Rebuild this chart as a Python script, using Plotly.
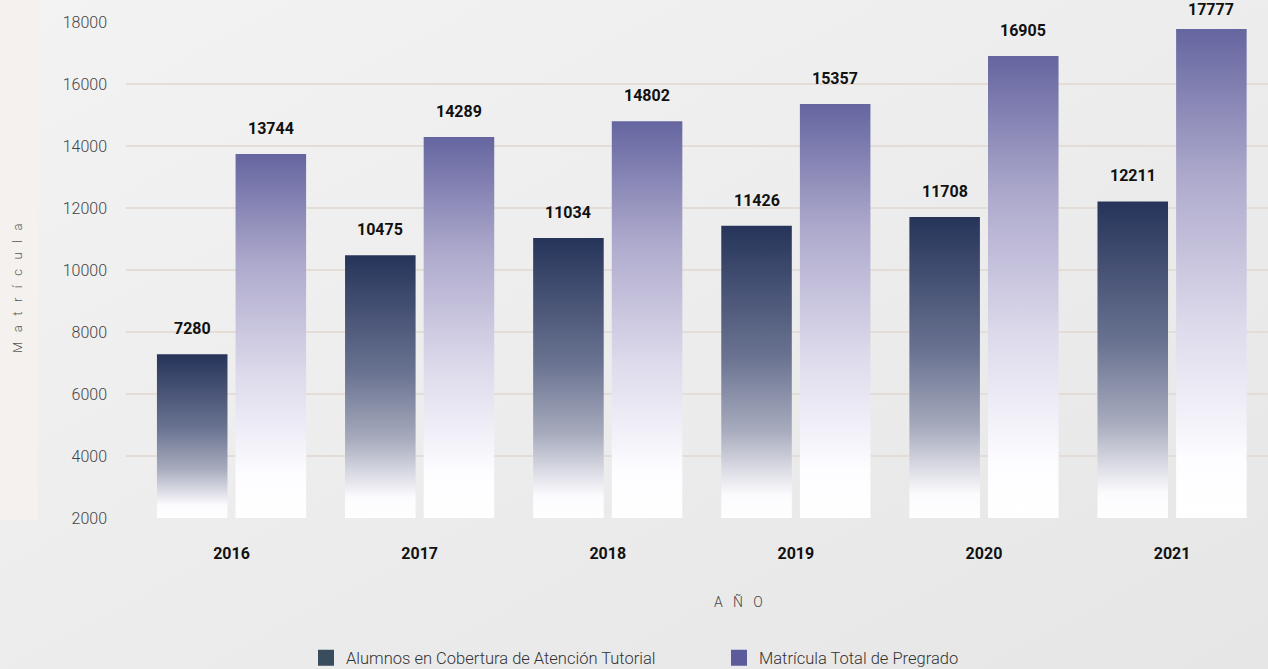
import base64
import plotly.graph_objects as go

# ---- data ----
years = ["2016", "2017", "2018", "2019", "2020", "2021"]
tutoria = [7280, 10475, 11034, 11426, 11708, 12211]
matricula = [13744, 14289, 14802, 15357, 16905, 17777]
series_names = ["Alumnos en Cobertura de Atención Tutorial", "Matrícula Total de Pregrado"]
y_ticks = [2000, 4000, 6000, 8000, 10000, 12000, 14000, 16000, 18000]

# ---- styling ----
W, H = 1268, 669
ML, MR, MT, MB = 126, 0, 22, 151
Y_MIN, Y_MAX = 2000, 18000
X_RANGE = [-0.561, 5.51]
BAR_W = 0.375
GAP = 0.043
dark_scale = [[0, "#ffffff"], [0.08, "#fbfafd"], [0.3, "#a7abbd"], [0.55, "#6a7391"], [1, "#26345a"]]
purple_scale = [[0, "#ffffff"], [0.12, "#fdfcff"], [0.4, "#dcd9eb"], [0.7, "#ada9cc"], [1, "#6565a0"]]
legend_colors = ["#3a4d5e", "#5c5c9c"]
NB = "\u00a0"

pw = W - ML - MR
ph = H - MT - MB

fig = go.Figure()

xs = list(range(len(years)))
for i, (t, m) in enumerate(zip(tutoria, matricula)):
    c = xs[i]
    for val, x0, x1, cs in [
        (t, c - GAP / 2 - BAR_W, c - GAP / 2, dark_scale),
        (m, c + GAP / 2, c + GAP / 2 + BAR_W, purple_scale),
    ]:
        fig.add_trace(go.Scatter(
            x=[x0, x1, x1, x0, x0],
            y=[Y_MIN, Y_MIN, val, val, Y_MIN],
            mode="lines", line=dict(width=0),
            fill="toself",
            fillgradient=dict(type="vertical", colorscale=cs),
            showlegend=False, hoverinfo="skip",
        ))
        top_px = MT + (Y_MAX - val) / (Y_MAX - Y_MIN) * ph
        fig.add_annotation(
            x=(x0 + x1) / 2, y=val, text=f"<b>{val}</b>", showarrow=False,
            yanchor="bottom", yshift=min(14, top_px - 21),
            font=dict(family="Roboto", size=16, color="#111111"),
        )

# legend entries
for name, col in zip(series_names, legend_colors):
    fig.add_trace(go.Scatter(
        x=[None], y=[None], mode="markers", name=name,
        marker=dict(symbol="square", size=22, color=col),
    ))

# background gradient + left strip via svg image
svg = f'''<svg xmlns="http://www.w3.org/2000/svg" width="{W}" height="{H}" viewBox="0 0 {W} {H}">
<defs><linearGradient id="g" x1="0" y1="0" x2="1" y2="1">
<stop offset="0" stop-color="#f3f3f3"/><stop offset="1" stop-color="#e6e6e6"/></linearGradient></defs>
<rect width="{W}" height="{H}" fill="url(#g)"/>
<rect x="0" y="0" width="38" height="520" fill="#f5f1ee"/>
</svg>'''
src = "data:image/svg+xml;base64," + base64.b64encode(svg.encode()).decode()
fig.add_layout_image(dict(
    source=src, xref="paper", yref="paper",
    x=-ML / pw, y=1 + MT / ph, sizex=W / pw, sizey=H / ph,
    xanchor="left", yanchor="top", sizing="stretch", layer="below",
))

fig.add_annotation(
    xref="paper", yref="paper", x=(738 - ML) / pw, y=-(602 - (H - MB)) / ph,
    text=(NB * 3).join("AÑO"), showarrow=False, xanchor="center", yanchor="middle",
    font=dict(family="Roboto", size=14, color="#444444", weight=300),
)
fig.add_annotation(
    xref="paper", yref="paper", x=-(ML - 17) / pw, y=1 - (289 - MT) / ph,
    text=(NB * 3).join("Matrícula"), showarrow=False, textangle=-90,
    xanchor="center", yanchor="middle",
    font=dict(family="Roboto", size=13, color="#555555", weight=300),
)

fig.update_layout(
    width=W, height=H,
    margin=dict(l=ML, r=MR, t=MT, b=MB, pad=0),
    paper_bgcolor="#eeeeee", plot_bgcolor="rgba(0,0,0,0)",
    showlegend=True,
    legend=dict(
        orientation="h", xref="container", yref="container",
        x=306 / W, y=1 - 658 / H, xanchor="left", yanchor="middle",
        entrywidth=368, entrywidthmode="pixels",
        font=dict(family="Roboto", size=16.5, color="#333333", weight=300),
        bgcolor="rgba(0,0,0,0)",
    ),
    xaxis=dict(
        range=X_RANGE, tickvals=xs, ticktext=[f"<b>{y}</b>" for y in years],
        showgrid=False, zeroline=False, showline=False, ticks="",
        ticklabelstandoff=24,
        tickfont=dict(family="Roboto", size=16, color="#111111"),
        fixedrange=True,
    ),
    yaxis=dict(
        range=[Y_MIN, Y_MAX], tickvals=y_ticks, tickformat="d",
        showgrid=True, gridcolor="#e4ddd7", gridwidth=2,
        zeroline=False, showline=False, ticks="",
        ticklabelstandoff=18,
        tickfont=dict(family="Roboto", size=16, color="#444444", weight=300),
        fixedrange=True,
    ),
)

fig.write_html(
    "out.html",
    config={"displayModeBar": False},
    post_script="document.body.style.margin='0';document.body.style.padding='0';",
)
